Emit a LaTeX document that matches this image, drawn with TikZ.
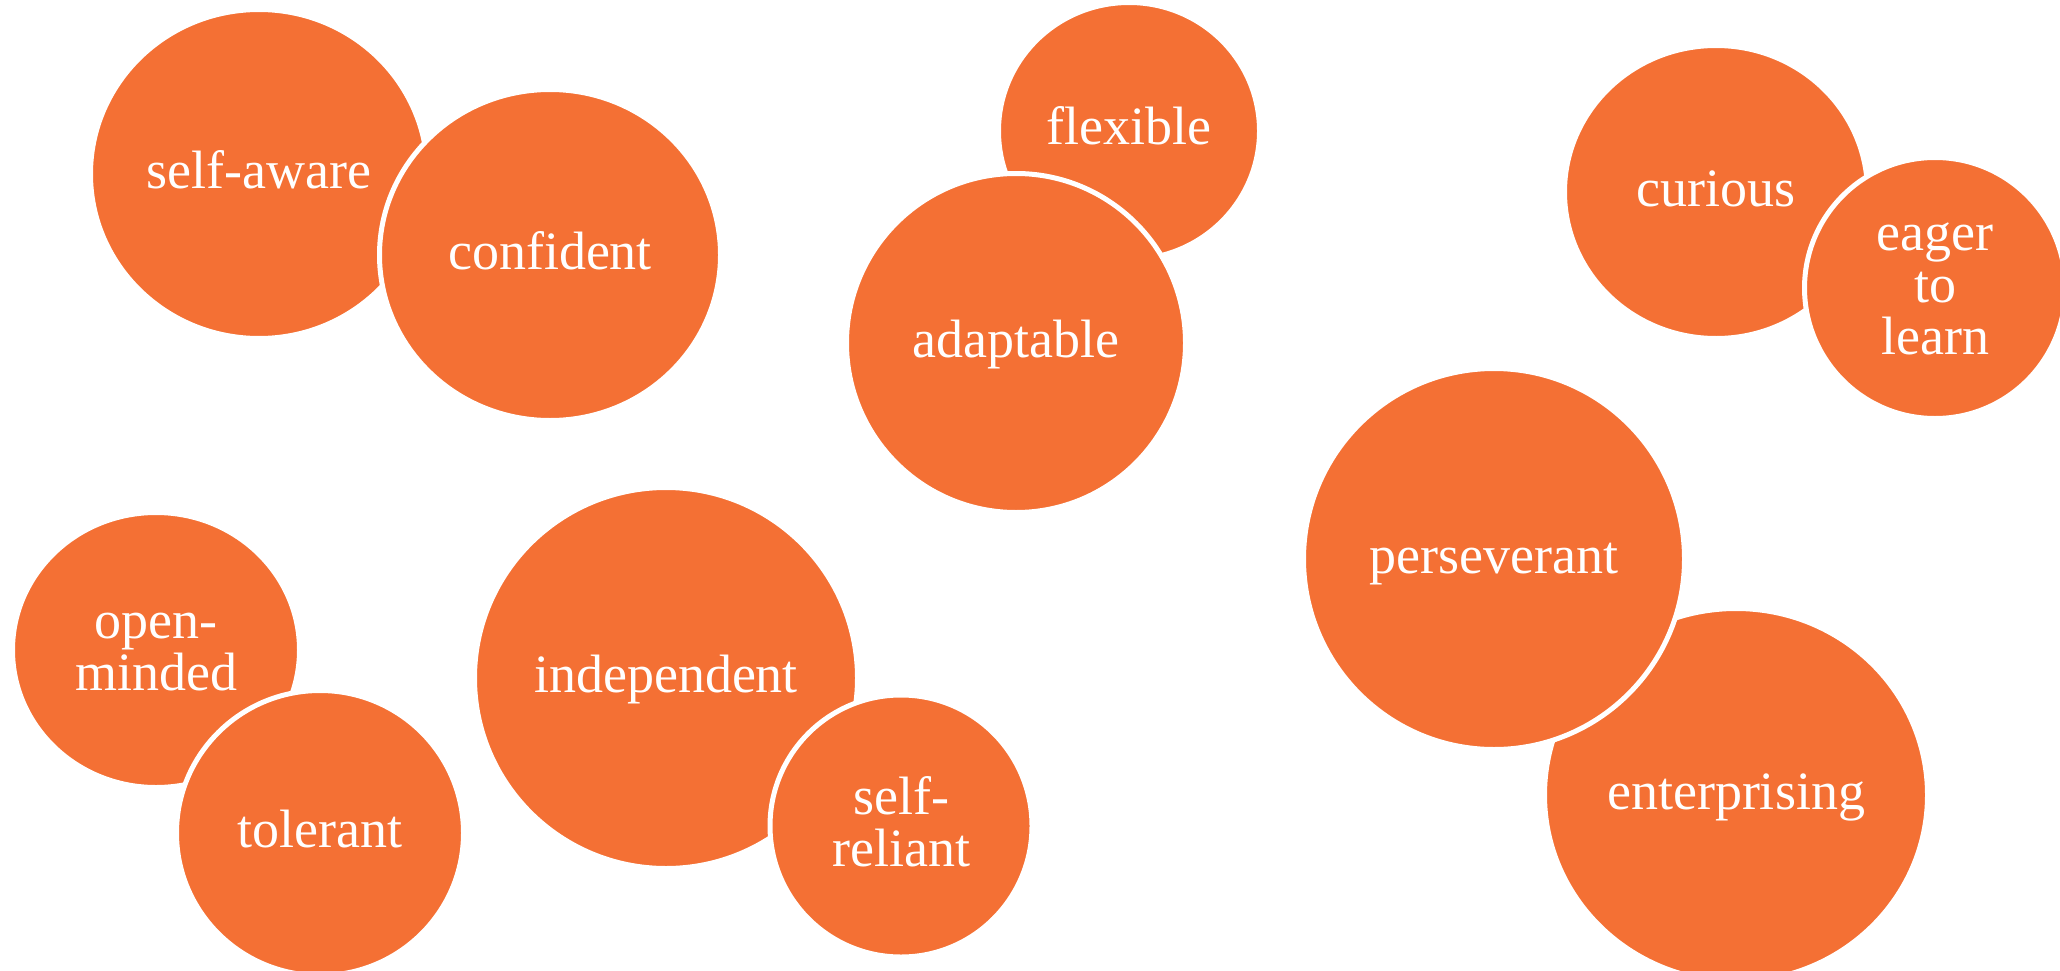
\documentclass[tikz,border=0pt]{standalone}
\usepackage{fontspec}
\setmainfont{Liberation Serif}
\usetikzlibrary{shapes.geometric}
\definecolor{blob}{RGB}{244,112,52}
\newcommand\lnstrut{\rule[-12pt]{0pt}{52pt}}
\tikzset{
  bub/.style={ellipse, fill=blob, draw=white, line width=5pt, inner sep=0pt,
    text=white, align=center, font=\fontsize{54pt}{52pt}\selectfont},
}
\begin{document}
\begin{tikzpicture}[x=1pt,y=-1pt]
\fill[white] (0,0) rectangle (2060,971);
\useasboundingbox (0,0) rectangle (2060,971);
\clip (0,0) rectangle (2060,971);
% pair 1
\node[bub, minimum width=337pt, minimum height=329pt] (selfaware) at (259,174) {\lnstrut self-aware};
\node[bub, minimum width=341pt, minimum height=331pt] (confident) at (550,255) {\lnstrut confident};
% pair 2
\node[bub, minimum width=261pt, minimum height=257pt] (flexible) at (1129,131) {\lnstrut flexible};
\node[bub, minimum width=339pt, minimum height=339pt] (adaptable) at (1016,343) {\lnstrut adaptable};
% pair 3
\node[bub, minimum width=303pt, minimum height=293pt] (curious) at (1716,192) {\lnstrut curious};
\node[bub, minimum width=261pt, minimum height=261pt] (eager) at (1935,288) {\lnstrut eager\\\lnstrut to\\\lnstrut learn};
% pair 4
\node[bub, minimum width=287pt, minimum height=275pt] (openminded) at (156,650) {\lnstrut open-\\\lnstrut minded};
\node[bub, minimum width=287pt, minimum height=285pt] (tolerant) at (320,833) {\lnstrut tolerant};
% pair 5
\node[bub, minimum width=383pt, minimum height=381pt] (independent) at (666,678) {\lnstrut independent};
\node[bub, minimum width=262pt, minimum height=262pt] (selfreliant) at (901,826) {\lnstrut self-\\\lnstrut reliant};
% pair 6
\node[bub, minimum width=383pt, minimum height=373pt] (enterprising) at (1736,795) {\lnstrut enterprising};
\node[bub, minimum width=381pt, minimum height=381pt] (perseverant) at (1494,559) {\lnstrut perseverant};
\end{tikzpicture}
\end{document}
